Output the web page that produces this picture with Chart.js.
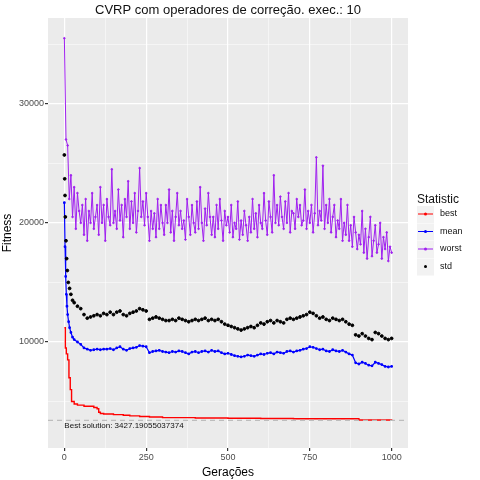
<!DOCTYPE html>
<html><head><meta charset="utf-8">
<script src="https://cdn.jsdelivr.net/npm/chart.js@4"></script>
<style>html,body{margin:0;padding:0;background:#fff}#w{width:480px;height:480px}</style>
</head><body><div id="w"><canvas id="c"></canvas></div>
<script>
const bestGens=[0,3,6,10,14,18,22,30,40,60,90,100,105,110,120,150,180,200,230,260,300,400,500,600,700,800,900,1000];
const bestVals=[11200,9500,9000,8500,7000,6000,5000,4800,4700,4600,4500,4400,4100,4000,3950,3900,3850,3800,3750,3700,3650,3620,3600,3580,3560,3550,3450,3427];
const meanEarlyGens=[0,2,4,6,8,10,13,16,20,25];
const meanEarlyVals=[21700,18000,15500,14000,13000,12300,11700,11200,10800,10400];
const meanVals=[10200,10000,9800,9500,9400,9300,9350,9400,9350,9400,
9400,9450,9350,9500,9600,9400,9300,9450,9500,9550,
9700,9650,9600,9100,9200,9250,9300,9200,9150,9100,
9200,9150,9250,9200,9100,9000,9150,9200,9100,9200,
9250,9150,9300,9200,9250,9100,9000,9050,8950,8850,
8800,8750,8800,8900,8850,8800,8900,9000,8950,9050,
9100,9000,9150,9100,9050,9200,9250,9150,9250,9300,
9400,9450,9600,9550,9450,9350,9400,9250,9200,9350,
9250,9200,9300,9150,9000,8900,8250,8150,8300,8200,
8050,8000,8300,8200,8100,7950,7900,7950];
const stdEarlyGens=[0,1,2,3,5,7,9,12,16,20,25];
const stdEarlyVals=[25700,23700,22300,20500,18500,17000,16000,15000,14500,14000,13500];
const stdVals=[13300,13000,12800,12300,12000,12100,12200,12300,12200,12400,
12300,12500,12300,12500,12600,12300,12200,12400,12500,12600,
12800,12700,12600,11900,12000,12100,12000,11900,11800,11800,
11900,11800,12000,11900,11800,11700,11800,11900,11800,11900,
12000,11800,11900,11800,11900,11700,11500,11400,11300,11200,
11100,11000,11100,11200,11300,11200,11400,11600,11500,11700,
11800,11600,11800,11700,11600,11900,12000,11900,12000,12100,
12200,12300,12500,12400,12200,12000,12100,11900,11800,12000,
11900,11800,11900,11700,11500,11400,10600,10500,10700,10500,
10300,10200,10800,10700,10500,10300,10200,10300];
const worstVals=[35500,27000,26500,22000,24000,20500,23000,19500,22500,21000,20000,
21500,19000,22000,18500,21000,20000,22500,19500,20500,21500,
19000,23000,20000,21500,18500,22000,20500,19800,24500,20000,
21000,19500,22800,20200,21500,18800,22000,20500,23500,19500,
21800,20000,22500,19200,21000,24600,20500,21800,19800,22500,
20500,18500,21000,19500,20800,18800,22000,19500,21500,20000,
19000,21500,20000,22800,19200,21000,18500,20500,22500,19800,
21000,19500,20200,18600,22000,20500,19000,21500,20000,19200,
21800,19500,23000,20000,18500,21200,19800,22500,20500,19000,
20500,18800,21500,19500,22000,20200,18500,21000,19800,20500,
19200,21500,18800,20000,19500,21800,18600,20200,19000,21000,
19800,18500,20500,19200,22000,19500,20800,18800,21500,20000,
19500,22500,20200,19000,21800,20500,19200,24000,20000,21500,
19800,22200,20500,19500,21800,20000,22500,19200,21000,20800,
19500,22000,20500,21500,19800,20200,22800,19500,21000,20000,
21500,19200,20800,25500,19800,21000,20200,24800,19500,21500,
20000,22000,19200,20500,21500,18800,20200,19500,22000,18500,
20000,19000,21500,18500,19800,18000,20500,19200,17800,19000,
18200,21000,17500,19500,17000,18800,20500,17200,18500,19800,
17500,18200,20000,17000,18800,17800,19200,16800,18000,17500];
const bestSolution=3427.19055037374;
const xTicks=[0,250,500,750,1000];
const yTicks=[10000,20000,30000];

const pts=(g,v)=>g.map((x,i)=>({x,y:v[i]}));
const meanData=pts(meanEarlyGens,meanEarlyVals).concat(meanVals.map((v,i)=>({x:30+i*10,y:v})));
const stdData=pts(stdEarlyGens,stdEarlyVals).concat(stdVals.map((v,i)=>({x:30+i*10,y:v})));
const worstData=worstVals.map((v,i)=>({x:i*5,y:v}));
const bestData=pts(bestGens,bestVals);

const panelBg={id:'bg',beforeDraw(ch){const a=ch.chartArea,c=ch.ctx;c.save();c.fillStyle='#EBEBEB';c.fillRect(a.left,a.top,a.right-a.left,a.bottom-a.top);c.restore();},
afterDatasetsDraw(ch){const c=ch.ctx,a=ch.chartArea,y=ch.scales.y.getPixelForValue(bestSolution);c.save();c.setLineDash([5,4]);c.strokeStyle='#BDBDBD';c.lineWidth=1.2;c.beginPath();c.moveTo(a.left,y);c.lineTo(a.right,y);c.stroke();c.setLineDash([]);
c.fillStyle='#111';c.font='8px "Liberation Sans",Arial';c.textBaseline='bottom';c.fillText('Best solution: '+bestSolution,ch.scales.x.getPixelForValue(0),y+10);
c.font='13px "Liberation Sans",Arial';c.textAlign='center';c.textBaseline='middle';c.fillText('CVRP com operadores de correção. exec.: 10',(a.left+a.right)/2,10);
c.textAlign='left';c.font='12px "Liberation Sans",Arial';c.fillText('Statistic',417,200);
const items=[['best','#FF0000',true],['mean','#0000FF',true],['worst','#A020F0',true],['std','#000',false]];
c.font='9px "Liberation Sans",Arial';
items.forEach((it,i)=>{const yy=214+i*17.5;c.fillStyle='#F2F2F2';c.fillRect(417,yy-8,17,17);
 if(it[2]){c.strokeStyle=it[1];c.lineWidth=1;c.beginPath();c.moveTo(418,yy);c.lineTo(433,yy);c.stroke();}
 c.fillStyle=it[1];c.beginPath();c.arc(425.5,yy,1.5,0,7);c.fill();
 c.fillStyle='#111';c.fillText(it[0],440,yy);});
c.restore();}};

const grid={color:'#FFFFFF',lineWidth:ctx=>ctx.tick&&ctx.tick.major?1.2:0.5,tickLength:3,tickColor:ctx=>ctx.tick&&ctx.tick.major?'#333':'rgba(0,0,0,0)'};
new Chart(document.getElementById('c'),{type:'scatter',
data:{datasets:[
{label:'worst',data:worstData,showLine:true,borderColor:'#A020F0',backgroundColor:'#A020F0',borderWidth:1,pointRadius:0.8},
{label:'std',data:stdData,showLine:false,backgroundColor:'#000',borderColor:'#000',pointRadius:1.4},
{label:'mean',data:meanData,showLine:true,borderColor:'#0000FF',backgroundColor:'#0000FF',borderWidth:1.2,pointRadius:0.8},
{label:'best',data:bestData,showLine:true,stepped:true,borderColor:'#FF0000',backgroundColor:'#FF0000',borderWidth:1.4,pointRadius:0}
]},
options:{animation:false,responsive:true,maintainAspectRatio:false,
layout:{padding:{top:18,right:72,left:0,bottom:0}},
plugins:{legend:{display:false},tooltip:{enabled:false}},
scales:{
x:{type:'linear',min:-50,max:1050,afterBuildTicks(s){s.ticks=[0,125,250,375,500,625,750,875,1000].map(v=>({value:v,major:xTicks.includes(v)}));},
 afterFit(s){s.height=32;},border:{display:false},grid:grid,
 ticks:{color:'#4D4D4D',font:{size:9,family:'Liberation Sans'},padding:1,autoSkip:false,maxRotation:0,callback:v=>xTicks.includes(v)?v:''},
 title:{display:true,text:'Gerações',color:'#000',font:{size:12,family:'Liberation Sans'},padding:{top:0,bottom:0}}},
y:{min:1100,max:37200,afterBuildTicks(s){s.ticks=[5000,10000,15000,20000,25000,30000,35000].map(v=>({value:v,major:yTicks.includes(v)}));},
 afterFit(s){s.width=48;},border:{display:false},grid:grid,
 ticks:{color:'#4D4D4D',font:{size:9,family:'Liberation Sans'},padding:1,autoSkip:false,callback:v=>yTicks.includes(v)?v:''},
 title:{display:true,text:'Fitness',color:'#000',font:{size:12,family:'Liberation Sans'},padding:{top:0,bottom:2}}}
}},plugins:[panelBg]});
</script></body></html>
